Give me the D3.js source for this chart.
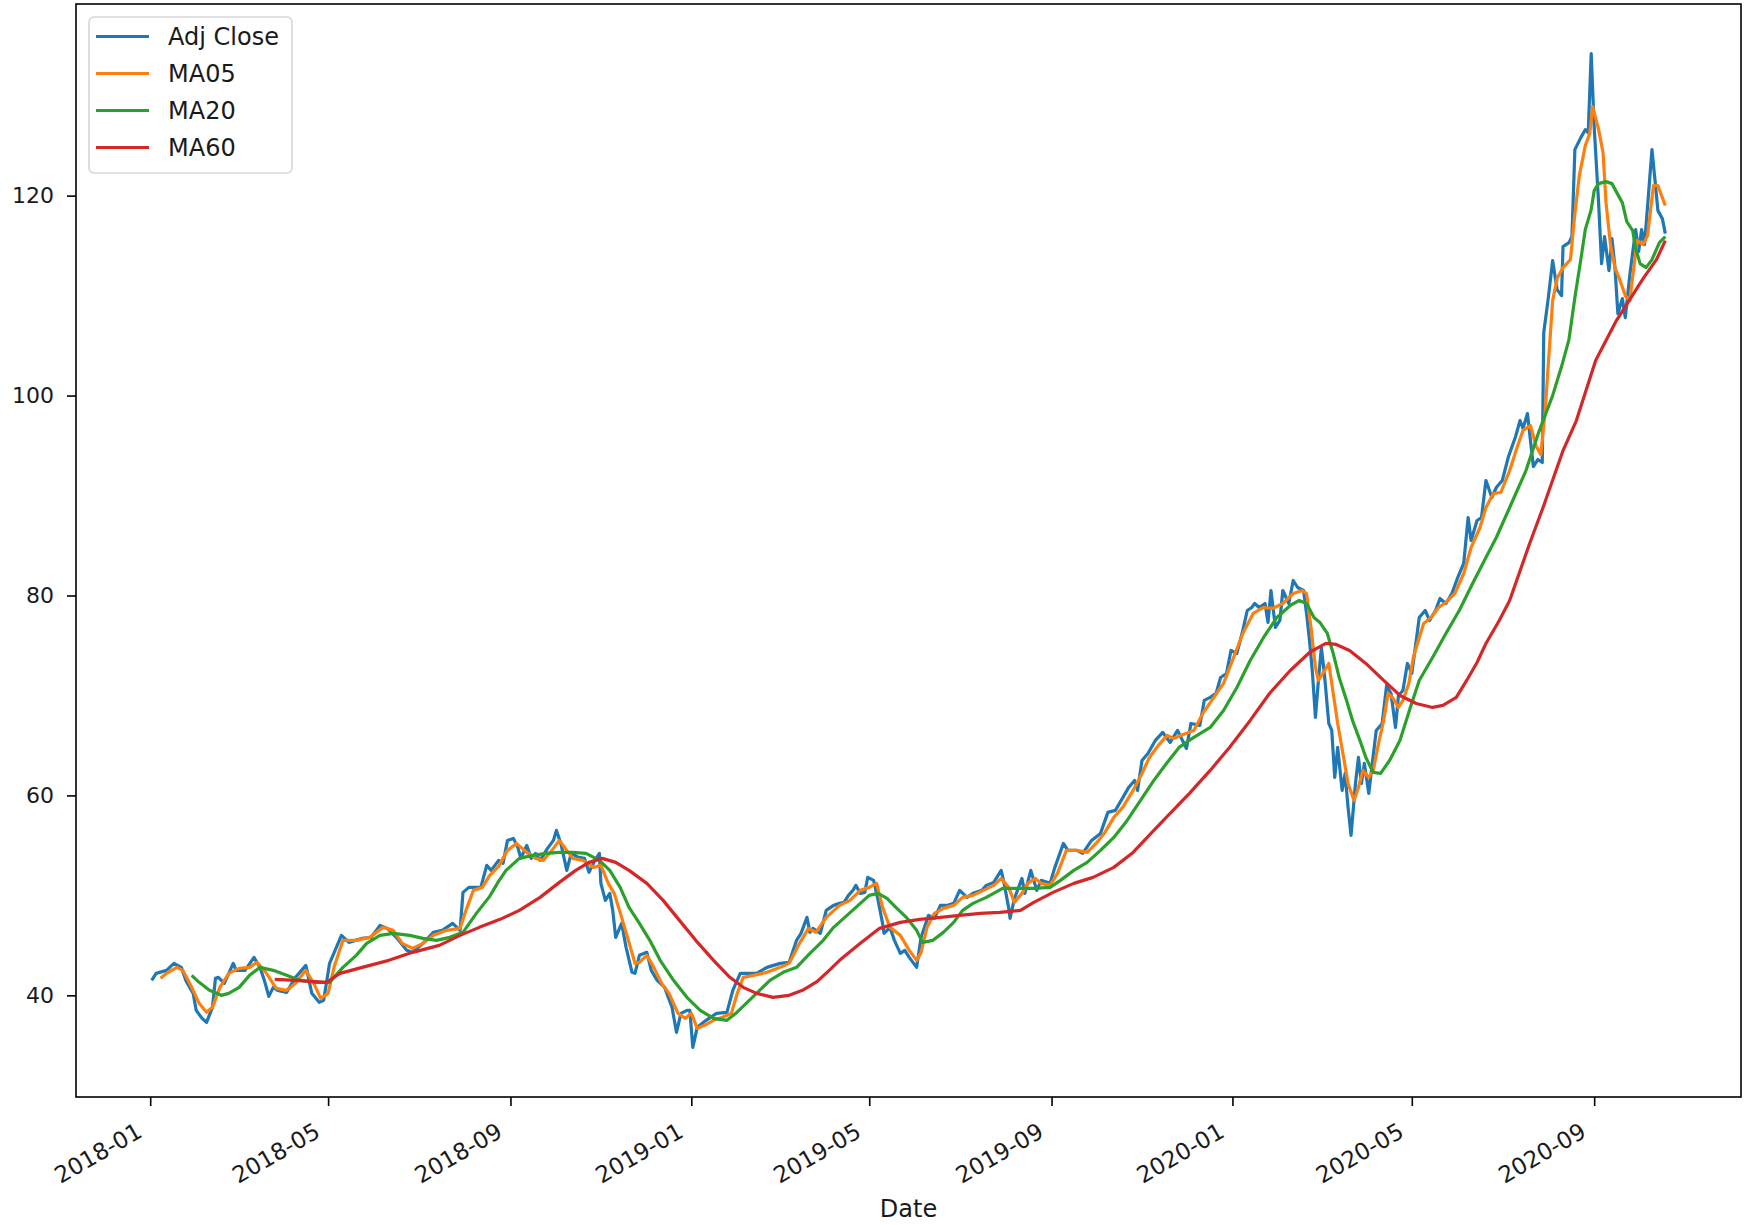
<!DOCTYPE html>
<html>
<head>
<meta charset="utf-8">
<script src="https://cdn.jsdelivr.net/npm/d3@7"></script>
<style>
  body { margin: 0; background: #fff; }
  svg { display: block; font-family: "DejaVu Sans", sans-serif; }
</style>
</head>
<body>
<div id="chart"></div>
<script>
// ---- data ----
const seriesNames = ["Adj Close", "MA05", "MA20", "MA60"];
const seriesColors = ["#1f77b4", "#ff7f0e", "#2ca02c", "#d62728"];
const yTicks = [40, 60, 80, 100, 120];
const xTickLabels = ["2018-01", "2018-05", "2018-09", "2019-01", "2019-05", "2019-09", "2020-01", "2020-05", "2020-09"];

const closeDates = [
  "2018-01-02","2018-01-05","2018-01-12","2018-01-17","2018-01-22","2018-01-25","2018-01-30","2018-02-01","2018-02-05","2018-02-08",
  "2018-02-12","2018-02-14","2018-02-16","2018-02-20","2018-02-26","2018-02-28","2018-03-06","2018-03-12","2018-03-16","2018-03-19",
  "2018-03-22","2018-03-25","2018-03-28","2018-04-03","2018-04-09","2018-04-16","2018-04-20","2018-04-25","2018-04-28","2018-05-02",
  "2018-05-10","2018-05-15","2018-05-24","2018-05-30","2018-06-05","2018-06-10","2018-06-16","2018-06-23","2018-06-27","2018-07-04",
  "2018-07-11","2018-07-17","2018-07-24","2018-07-29","2018-07-31","2018-08-04","2018-08-12","2018-08-16","2018-08-19","2018-08-24",
  "2018-08-27","2018-08-30","2018-09-03","2018-09-06","2018-09-08","2018-09-12","2018-09-15","2018-09-18","2018-09-21","2018-09-26",
  "2018-09-30","2018-10-02","2018-10-05","2018-10-09","2018-10-12","2018-10-17","2018-10-21","2018-10-24","2018-10-28","2018-10-31",
  "2018-11-01","2018-11-04","2018-11-07","2018-11-09","2018-11-11","2018-11-15","2018-11-18","2018-11-22","2018-11-24","2018-11-27",
  "2018-12-02","2018-12-05","2018-12-09","2018-12-14","2018-12-19","2018-12-22","2018-12-25","2018-12-29","2018-12-31","2019-01-02",
  "2019-01-05","2019-01-11","2019-01-18","2019-01-25","2019-01-29","2019-02-03","2019-02-07","2019-02-14","2019-02-21","2019-03-02",
  "2019-03-08","2019-03-13","2019-03-16","2019-03-20","2019-03-22","2019-03-24","2019-03-29","2019-04-02","2019-04-07","2019-04-11",
  "2019-04-14","2019-04-17","2019-04-20","2019-04-22","2019-04-25","2019-04-28","2019-04-30","2019-05-04","2019-05-07","2019-05-10",
  "2019-05-11","2019-05-15","2019-05-18","2019-05-22","2019-05-25","2019-05-28","2019-06-02","2019-06-05","2019-06-10","2019-06-14",
  "2019-06-18","2019-06-23","2019-06-27","2019-07-01","2019-07-06","2019-07-10","2019-07-16","2019-07-19","2019-07-24","2019-07-29",
  "2019-07-31","2019-08-03","2019-08-04","2019-08-07","2019-08-12","2019-08-14","2019-08-18","2019-08-22","2019-08-25","2019-08-31",
  "2019-09-03","2019-09-09","2019-09-12","2019-09-18","2019-09-22","2019-09-28","2019-10-04","2019-10-09","2019-10-14","2019-10-18",
  "2019-10-23","2019-10-27","2019-10-29","2019-11-01","2019-11-05","2019-11-10","2019-11-15","2019-11-20","2019-11-25","2019-12-01",
  "2019-12-04","2019-12-10","2019-12-13","2019-12-17","2019-12-21","2019-12-24","2019-12-28","2019-12-31","2020-01-04","2020-01-08",
  "2020-01-11","2020-01-14","2020-01-16","2020-01-19","2020-01-23","2020-01-25","2020-01-27","2020-01-30","2020-02-02","2020-02-04",
  "2020-02-08","2020-02-11","2020-02-14","2020-02-18","2020-02-20","2020-02-22","2020-02-24","2020-02-26","2020-02-28","2020-03-01",
  "2020-03-03","2020-03-06","2020-03-08","2020-03-10","2020-03-12","2020-03-15","2020-03-17","2020-03-19","2020-03-21","2020-03-24",
  "2020-03-26","2020-03-28","2020-03-30","2020-04-02","2020-04-04","2020-04-07","2020-04-11","2020-04-14","2020-04-17","2020-04-20",
  "2020-04-22","2020-04-25","2020-04-28","2020-05-01","2020-05-04","2020-05-06","2020-05-10","2020-05-13","2020-05-17","2020-05-20",
  "2020-05-24","2020-05-28","2020-06-01","2020-06-05","2020-06-08","2020-06-10","2020-06-14","2020-06-17","2020-06-20","2020-06-24",
  "2020-06-27","2020-07-01","2020-07-05","2020-07-10","2020-07-13","2020-07-15","2020-07-18","2020-07-22","2020-07-25","2020-07-28",
  "2020-07-29","2020-08-01","2020-08-04","2020-08-07","2020-08-10","2020-08-11","2020-08-15","2020-08-17","2020-08-19","2020-08-23",
  "2020-08-26","2020-08-28","2020-08-30","2020-09-01","2020-09-04","2020-09-06","2020-09-08","2020-09-11","2020-09-13","2020-09-15",
  "2020-09-17","2020-09-20","2020-09-22","2020-09-25","2020-09-29","2020-10-01","2020-10-03","2020-10-05","2020-10-08","2020-10-10",
  "2020-10-12","2020-10-14","2020-10-17","2020-10-19"
];
const closeValues = [
  41.5,42.2,42.5,43.2,42.8,41.5,40.2,38.5,37.7,37.3,
  38.8,41.7,41.8,41.2,43.2,42.5,42.5,43.8,42.8,41.5,
  39.9,40.8,40.5,40.3,41.8,43.0,40.2,39.3,39.5,43.2,
  46.0,45.3,45.7,45.8,47.0,46.7,45.8,44.5,44.3,45.2,
  46.3,46.5,47.2,46.5,50.3,50.8,50.8,53.0,52.5,53.5,
  53.2,55.5,55.7,54.8,53.7,55.0,53.7,54.2,53.5,54.7,
  55.5,56.5,55.2,52.5,54.2,53.8,53.7,52.3,53.5,54.2,
  51.2,49.5,50.2,48.5,45.8,47.2,44.8,42.3,42.2,44.0,
  44.3,42.5,41.5,40.8,38.8,36.3,38.2,38.5,38.5,34.8,
  36.8,37.5,38.2,38.3,40.5,42.2,42.2,42.2,42.8,43.2,
  43.3,45.5,46.2,47.8,46.3,46.7,46.2,48.5,49.0,49.2,
  49.3,50.0,50.5,51.0,50.2,50.3,51.8,51.5,49.5,47.2,
  46.2,46.8,45.5,44.2,44.5,43.8,42.8,45.8,48.0,47.7,
  49.0,49.0,49.2,50.5,49.8,50.2,50.5,51.0,51.3,52.5,
  51.2,48.8,47.7,49.7,51.7,50.2,52.5,50.5,51.5,51.2,
  52.7,55.2,54.5,54.5,54.2,55.5,56.2,58.3,58.5,59.5,
  60.8,61.5,60.5,63.5,64.2,65.5,66.3,65.3,66.5,64.7,
  67.2,67.0,69.5,69.8,70.2,71.8,72.2,74.5,74.2,76.5,
  78.5,78.8,79.2,78.8,79.2,77.3,80.5,76.8,77.5,80.5,
  79.2,81.5,80.8,80.5,78.2,75.5,72.2,67.8,71.5,74.8,
  72.2,67.2,66.5,61.8,64.8,60.5,62.2,58.8,56.0,61.2,
  63.8,61.2,63.2,60.2,62.8,66.5,67.2,71.0,70.2,66.8,
  70.0,70.5,73.2,72.2,75.5,77.8,78.5,77.5,78.5,79.7,
  79.2,80.2,81.8,83.2,87.8,85.5,87.5,87.8,91.5,89.8,
  90.8,91.5,93.8,95.9,97.5,96.7,98.2,92.9,93.6,93.3,
  106.3,109.7,113.5,110.6,110.0,114.9,115.3,115.9,124.6,125.8,
  126.6,126.3,134.2,126.9,119.3,113.2,115.9,112.5,115.7,112.9,
  108.2,109.7,107.8,112.0,116.6,114.4,116.6,115.1,120.8,124.6,
  121.6,118.5,117.7,116.2
];

const ma05Dates = [
  "2018-01-08","2018-01-12","2018-01-19","2018-01-23","2018-01-29","2018-02-03","2018-02-08","2018-02-12","2018-02-17","2018-02-23",
  "2018-03-02","2018-03-09","2018-03-14","2018-03-20","2018-03-27","2018-04-03","2018-04-09","2018-04-16","2018-04-22","2018-04-26",
  "2018-05-01","2018-05-05","2018-05-11","2018-05-20","2018-05-29","2018-06-07","2018-06-14","2018-06-20","2018-06-27","2018-07-04",
  "2018-07-11","2018-07-20","2018-07-29","2018-08-02","2018-08-07","2018-08-13","2018-08-18","2018-08-24","2018-08-30","2018-09-05",
  "2018-09-12","2018-09-18","2018-09-23","2018-09-29","2018-10-04","2018-10-09","2018-10-13","2018-10-20","2018-10-27","2018-11-01",
  "2018-11-06","2018-11-10","2018-11-15","2018-11-19","2018-11-24","2018-11-27","2018-12-02","2018-12-06","2018-12-12","2018-12-17",
  "2018-12-23","2018-12-28","2019-01-01","2019-01-05","2019-01-10","2019-01-16","2019-01-22","2019-01-28","2019-02-01","2019-02-05",
  "2019-02-12","2019-02-21","2019-03-02","2019-03-08","2019-03-15","2019-03-21","2019-03-26","2019-04-02","2019-04-11","2019-04-18",
  "2019-04-25","2019-05-01","2019-05-06","2019-05-10","2019-05-15","2019-05-22","2019-05-28","2019-06-02","2019-06-05","2019-06-09",
  "2019-06-14","2019-06-20","2019-06-27","2019-07-03","2019-07-10","2019-07-17","2019-07-24","2019-07-29","2019-08-03","2019-08-07",
  "2019-08-12","2019-08-16","2019-08-21","2019-08-25","2019-08-31","2019-09-05","2019-09-11","2019-09-18","2019-09-25","2019-10-01",
  "2019-10-07","2019-10-13","2019-10-19","2019-10-26","2019-11-01","2019-11-06","2019-11-12","2019-11-18","2019-11-22","2019-11-27",
  "2019-12-06","2019-12-12","2019-12-19","2019-12-26","2020-01-01","2020-01-08","2020-01-15","2020-01-22","2020-01-28","2020-02-04",
  "2020-02-11","2020-02-17","2020-02-20","2020-02-23","2020-02-26","2020-02-28","2020-03-02","2020-03-06","2020-03-09","2020-03-12",
  "2020-03-16","2020-03-19","2020-03-23","2020-03-26","2020-03-29","2020-04-02","2020-04-05","2020-04-08","2020-04-12","2020-04-15",
  "2020-04-18","2020-04-22","2020-04-25","2020-04-29","2020-05-02","2020-05-06","2020-05-09","2020-05-14","2020-05-19","2020-05-24",
  "2020-05-30","2020-06-05","2020-06-10","2020-06-16","2020-06-20","2020-06-25","2020-06-30","2020-07-06","2020-07-11","2020-07-15",
  "2020-07-20","2020-07-24","2020-07-27","2020-07-30","2020-08-01","2020-08-04","2020-08-07","2020-08-11","2020-08-16","2020-08-19",
  "2020-08-22","2020-08-26","2020-08-29","2020-08-31","2020-09-04","2020-09-07","2020-09-09","2020-09-12","2020-09-15","2020-09-18",
  "2020-09-22","2020-09-25","2020-09-30","2020-10-04","2020-10-07","2020-10-11","2020-10-14","2020-10-17","2020-10-19"
];
const ma05Values = [
  41.7,42.2,42.8,42.5,40.8,39.2,38.3,38.8,40.8,42.2,
  42.7,42.8,43.3,42.3,40.7,40.5,41.2,42.5,41.0,39.7,
  40.2,42.8,45.5,45.5,45.8,46.8,46.5,45.2,44.7,45.2,
  46.0,46.5,46.7,48.5,50.5,50.8,52.0,52.9,54.5,55.2,
  54.3,53.7,53.5,54.5,55.5,54.5,53.7,53.5,52.8,53.0,
  51.2,50.2,47.8,45.8,43.2,43.3,44.0,43.0,41.2,40.2,
  38.2,37.7,38.2,36.7,37.0,37.5,37.8,38.2,40.2,41.8,
  42.0,42.3,42.8,43.2,45.2,46.7,46.3,47.8,49.0,49.5,
  50.5,50.8,51.2,48.8,46.8,46.0,44.5,43.5,44.3,46.8,
  48.2,48.7,49.0,49.8,50.0,50.5,51.0,51.7,50.8,49.3,
  50.2,51.2,51.7,51.2,51.0,52.2,54.5,54.5,54.3,55.2,
  56.3,57.8,58.8,60.5,62.2,63.8,65.0,66.0,65.7,66.0,
  66.5,68.2,69.7,71.2,73.5,76.2,78.2,78.8,78.7,79.2,
  80.2,80.5,80.2,76.8,72.8,71.5,72.2,73.2,70.2,67.2,
  63.8,61.2,59.5,60.8,62.5,61.8,62.5,64.8,67.5,70.2,
  69.8,68.8,69.5,71.2,73.8,75.8,77.2,77.8,78.8,79.3,
  80.2,82.2,84.8,86.8,88.8,90.2,90.3,92.5,94.8,96.5,
  97.0,94.9,94.1,98.5,103.0,109.5,111.7,112.8,113.6,118.2,
  122.0,125.0,126.2,128.9,126.6,124.3,119.3,115.1,112.8,111.7,
  110.0,109.5,115.5,115.1,116.0,121.0,121.0,119.8,119.0
];

const ma20Dates = [
  "2018-01-29","2018-02-03","2018-02-10","2018-02-18","2018-02-23","2018-03-02","2018-03-09","2018-03-16","2018-03-25","2018-04-03",
  "2018-04-12","2018-04-23","2018-05-02","2018-05-11","2018-05-20","2018-05-27","2018-06-05","2018-06-14","2018-06-25","2018-07-04",
  "2018-07-13","2018-07-22","2018-07-31","2018-08-09","2018-08-18","2018-08-24","2018-08-29","2018-09-07","2018-09-16","2018-09-25",
  "2018-10-04","2018-10-13","2018-10-22","2018-10-31","2018-11-07","2018-11-14","2018-11-20","2018-11-27","2018-12-04","2018-12-11",
  "2018-12-20","2018-12-29","2019-01-07","2019-01-16","2019-01-25","2019-01-31","2019-02-07","2019-02-14","2019-02-23","2019-03-04",
  "2019-03-13","2019-03-22","2019-03-31","2019-04-07","2019-04-16","2019-04-25","2019-05-01","2019-05-07","2019-05-13","2019-05-19",
  "2019-05-26","2019-06-02","2019-06-06","2019-06-13","2019-06-20","2019-06-27","2019-07-03","2019-07-10","2019-07-19","2019-07-30",
  "2019-08-08","2019-08-20","2019-08-31","2019-09-07","2019-09-16","2019-09-25","2019-10-04","2019-10-13","2019-10-22","2019-10-31",
  "2019-11-09","2019-11-18","2019-11-26","2019-12-06","2019-12-17","2019-12-26","2020-01-04","2020-01-13","2020-01-22","2020-01-31",
  "2020-02-09","2020-02-15","2020-02-20","2020-02-25","2020-02-29","2020-03-05","2020-03-09","2020-03-13","2020-03-18","2020-03-22",
  "2020-03-27","2020-03-31","2020-04-05","2020-04-10","2020-04-16","2020-04-23","2020-04-30","2020-05-06","2020-05-15","2020-05-24",
  "2020-06-02","2020-06-11","2020-06-20","2020-06-27","2020-07-06","2020-07-17","2020-07-26","2020-08-04","2020-08-10","2020-08-15",
  "2020-08-19","2020-08-23","2020-08-26","2020-08-30","2020-09-01","2020-09-04","2020-09-09","2020-09-13","2020-09-17","2020-09-20",
  "2020-09-23","2020-09-27","2020-09-29","2020-10-02","2020-10-06","2020-10-10","2020-10-15","2020-10-19"
];
const ma20Values = [
  42.0,41.3,40.5,40.0,40.2,40.8,42.0,42.8,42.5,42.0,
  41.5,41.3,41.3,42.8,44.0,45.2,46.0,46.2,46.0,45.7,
  45.5,45.8,46.3,48.2,49.9,51.4,52.5,53.7,54.0,54.2,
  54.3,54.3,54.2,53.5,52.5,50.8,48.8,47.2,45.5,43.5,
  41.5,39.8,38.5,37.7,37.5,38.2,39.2,40.2,41.5,42.3,
  42.8,44.2,45.5,46.8,48.0,49.2,50.0,50.2,49.7,48.8,
  47.8,46.5,45.3,45.5,46.3,47.3,48.5,49.2,49.8,50.7,
  50.7,50.7,50.8,51.5,52.5,53.3,54.5,55.8,57.5,59.5,
  61.5,63.3,64.8,65.8,66.8,68.5,70.8,73.5,75.8,77.8,
  79.0,79.5,79.2,77.8,77.3,76.2,74.2,71.8,69.5,67.5,
  65.5,63.8,62.3,62.2,63.5,65.5,68.8,71.5,73.8,76.2,
  78.5,81.2,83.8,85.8,88.8,92.5,96.5,100.0,102.9,105.6,
  109.8,113.6,116.6,118.6,120.5,121.2,121.4,121.2,120.1,119.3,
  117.4,116.5,114.7,113.2,112.8,113.6,115.3,115.9
];

const ma60Dates = [
  "2018-03-26","2018-04-09","2018-04-30","2018-05-09","2018-05-24","2018-06-11","2018-06-27","2018-07-15","2018-07-29","2018-08-11",
  "2018-08-25","2018-09-07","2018-09-21","2018-10-04","2018-10-15","2018-10-24","2018-11-02","2018-11-11","2018-11-20","2018-12-02",
  "2018-12-13","2018-12-24","2019-01-04","2019-01-16","2019-01-27","2019-02-05","2019-02-14","2019-02-25","2019-03-08","2019-03-17",
  "2019-03-27","2019-04-04","2019-04-11","2019-04-25","2019-05-08","2019-05-22","2019-06-04","2019-06-18","2019-07-01","2019-07-15",
  "2019-07-28","2019-08-11","2019-08-20","2019-09-02","2019-09-16","2019-09-29","2019-10-13","2019-10-26","2019-11-09","2019-11-20",
  "2019-12-03","2019-12-17","2019-12-30","2020-01-13","2020-01-26","2020-02-09","2020-02-22","2020-03-04","2020-03-11","2020-03-20",
  "2020-03-31","2020-04-12","2020-04-23","2020-05-04","2020-05-15","2020-05-22","2020-05-31","2020-06-07","2020-06-14","2020-06-20",
  "2020-06-29","2020-07-06","2020-07-19","2020-07-29","2020-08-11","2020-08-20","2020-09-02","2020-09-16","2020-10-04","2020-10-13",
  "2020-10-19"
];
const ma60Values = [
  41.6,41.5,41.3,42.2,42.8,43.5,44.3,45.0,46.0,46.8,
  47.6,48.5,49.8,51.3,52.5,53.3,53.7,53.3,52.5,51.2,
  49.5,47.5,45.5,43.5,41.8,40.8,40.2,39.8,40.0,40.5,
  41.4,42.5,43.5,45.2,46.7,47.3,47.6,47.8,48.0,48.2,
  48.3,48.5,49.3,50.3,51.2,51.8,52.8,54.3,56.5,58.2,
  60.2,62.5,64.8,67.5,70.2,72.5,74.3,75.2,75.1,74.5,
  73.2,71.5,70.0,69.2,68.8,69.0,69.8,71.5,73.3,75.2,
  77.5,79.5,85.0,89.0,94.5,97.5,103.5,107.5,111.7,113.6,
  115.5
];

// ---- layout ----
const width = 1752;
const height = 1225;
const margin = {top: 4, right: 11, bottom: 128, left: 76};
const fontFamily = "DejaVu Sans";

const parseDay = d3.utcParse("%Y-%m-%d");
const parseMonth = d3.utcParse("%Y-%m");

const series = [
  {dates: closeDates, values: closeValues},
  {dates: ma05Dates, values: ma05Values},
  {dates: ma20Dates, values: ma20Values},
  {dates: ma60Dates, values: ma60Values}
].map((s, i) => ({
  name: seriesNames[i],
  color: seriesColors[i],
  points: s.dates.map((d, j) => [parseDay(d), s.values[j]])
}));

const allPoints = series.flatMap(s => s.points);

// matplotlib-style 5% margins around the data
const [d0, d1] = d3.extent(allPoints, p => p[0]);
const padX = (d1 - d0) * 0.05;
const x = d3.scaleUtc()
  .domain([new Date(+d0 - padX), new Date(+d1 + padX)])
  .range([margin.left, width - margin.right]);

const [v0, v1] = d3.extent(allPoints, p => p[1]);
const padY = (v1 - v0) * 0.05;
const y = d3.scaleLinear()
  .domain([v0 - padY, v1 + padY])
  .range([height - margin.bottom, margin.top]);

const svg = d3.select("#chart").append("svg")
  .attr("width", width)
  .attr("height", height);

svg.append("rect").attr("width", width).attr("height", height).attr("fill", "#fff");

// lines
const line = d3.line()
  .x(p => x(p[0]))
  .y(p => y(p[1]));

svg.append("g")
  .selectAll("path")
  .data(series)
  .join("path")
    .attr("fill", "none")
    .attr("stroke", d => d.color)
    .attr("stroke-width", 3.2)
    .attr("stroke-linejoin", "round")
    .attr("d", d => line(d.points));

// y axis
svg.append("g")
  .attr("transform", `translate(${margin.left},0)`)
  .call(d3.axisLeft(y).tickValues(yTicks).tickSize(9).tickPadding(13))
  .attr("font-family", fontFamily)
  .attr("font-size", 22)
  .call(g => g.select(".domain").remove())
  .call(g => g.selectAll(".tick line").attr("stroke", "#000").attr("stroke-width", 1.6))
  .call(g => g.selectAll(".tick text").attr("fill", "#1a1a1a"));

// x axis, labels rotated like autofmt_xdate
svg.append("g")
  .attr("transform", `translate(0,${height - margin.bottom})`)
  .call(d3.axisBottom(x)
    .tickValues(xTickLabels.map(parseMonth))
    .tickFormat(d3.utcFormat("%Y-%m"))
    .tickSize(9))
  .attr("font-family", fontFamily)
  .attr("font-size", 23)
  .call(g => g.select(".domain").remove())
  .call(g => g.selectAll(".tick line").attr("stroke", "#000").attr("stroke-width", 1.6))
  .call(g => g.selectAll(".tick text")
    .attr("fill", "#1a1a1a")
    .attr("y", 0)
    .attr("dy", null)
    .attr("text-anchor", "end")
    .attr("transform", "translate(-7,39) rotate(-30)"));

svg.append("text")
  .attr("x", (margin.left + width - margin.right) / 2)
  .attr("y", 1217)
  .attr("text-anchor", "middle")
  .attr("font-family", fontFamily)
  .attr("font-size", 24)
  .attr("fill", "#1a1a1a")
  .text("Date");

// axes frame
svg.append("rect")
  .attr("x", margin.left)
  .attr("y", margin.top)
  .attr("width", width - margin.left - margin.right)
  .attr("height", height - margin.top - margin.bottom)
  .attr("fill", "none")
  .attr("stroke", "#000")
  .attr("stroke-width", 1.6);

// legend
const legend = svg.append("g").attr("transform", "translate(89,17)");
legend.append("rect")
  .attr("width", 203)
  .attr("height", 156)
  .attr("rx", 5)
  .attr("fill", "#fff")
  .attr("fill-opacity", 0.8)
  .attr("stroke", "#d6d6d6")
  .attr("stroke-width", 1.6);

const item = legend.selectAll("g.item")
  .data(series)
  .join("g")
    .attr("class", "item")
    .attr("transform", (d, i) => `translate(0,${19.5 + i * 37})`);

item.append("line")
  .attr("x1", 7).attr("x2", 60)
  .attr("stroke", d => d.color)
  .attr("stroke-width", 3.2);

item.append("text")
  .attr("x", 79)
  .attr("dy", "0.36em")
  .attr("font-family", fontFamily)
  .attr("font-size", 24)
  .attr("fill", "#1a1a1a")
  .text(d => d.name);
</script>
</body>
</html>
